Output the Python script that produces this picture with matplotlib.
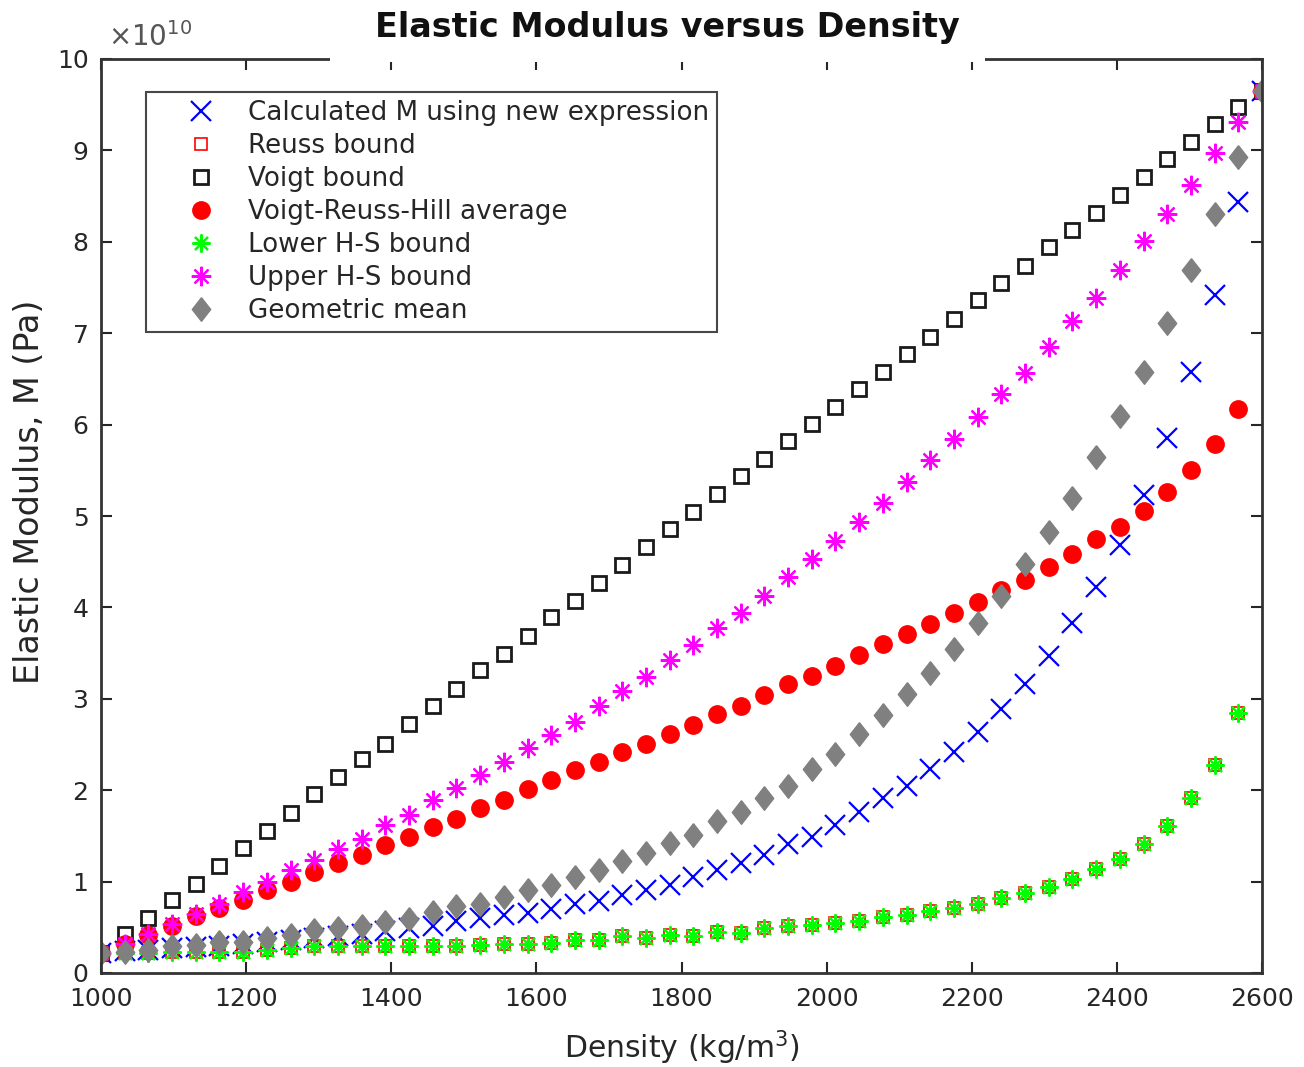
import matplotlib
matplotlib.use("Agg")
import matplotlib.pyplot as plt
from matplotlib.patches import Rectangle

plt.rcParams['font.family'] = ['DejaVu Sans']

# density (kg/m^3)
density = [1000.0, 1032.7, 1065.3, 1098.0, 1130.6, 1163.3, 1195.9, 1228.6, 1261.2, 1293.9,
           1326.5, 1359.2, 1391.8, 1424.5, 1457.1, 1489.8, 1522.4, 1555.1, 1587.8, 1620.4,
           1653.1, 1685.7, 1718.4, 1751.0, 1783.7, 1816.3, 1849.0, 1881.6, 1914.3, 1946.9,
           1979.6, 2012.2, 2044.9, 2077.6, 2110.2, 2142.9, 2175.5, 2208.2, 2240.8, 2273.5,
           2306.1, 2338.8, 2371.4, 2404.1, 2436.7, 2469.4, 2502.0, 2534.7, 2567.3, 2600.0]

# moduli, in units of 1e10 Pa
calc_m = [0.22, 0.24, 0.25, 0.27, 0.28, 0.30, 0.32, 0.34, 0.36, 0.38,
          0.41, 0.43, 0.46, 0.49, 0.51, 0.57, 0.60, 0.63, 0.66, 0.70,
          0.76, 0.79, 0.85, 0.91, 0.96, 1.05, 1.13, 1.20, 1.29, 1.41,
          1.49, 1.62, 1.76, 1.91, 2.05, 2.23, 2.42, 2.64, 2.89, 3.16,
          3.47, 3.83, 4.22, 4.68, 5.23, 5.85, 6.58, 7.42, 8.44, 9.65]

voigt = [0.22, 0.43, 0.60, 0.80, 0.97, 1.17, 1.37, 1.55, 1.75, 1.96,
         2.14, 2.34, 2.51, 2.72, 2.92, 3.11, 3.31, 3.49, 3.69, 3.89,
         4.07, 4.27, 4.46, 4.66, 4.86, 5.04, 5.24, 5.44, 5.62, 5.82,
         6.01, 6.19, 6.39, 6.58, 6.77, 6.96, 7.16, 7.36, 7.55, 7.74,
         7.94, 8.13, 8.32, 8.51, 8.71, 8.91, 9.09, 9.29, 9.47, 9.65]

vrh = [0.22, 0.32, 0.42, 0.51, 0.62, 0.71, 0.80, 0.91, 1.00, 1.11,
       1.20, 1.29, 1.40, 1.49, 1.60, 1.69, 1.80, 1.89, 2.01, 2.11,
       2.22, 2.31, 2.42, 2.51, 2.62, 2.71, 2.83, 2.92, 3.04, 3.16,
       3.25, 3.36, 3.48, 3.60, 3.71, 3.82, 3.94, 4.06, 4.19, 4.30,
       4.44, 4.58, 4.75, 4.88, 5.06, 5.26, 5.50, 5.79, 6.17, 9.65]

lower_hs = [0.22, 0.22, 0.22, 0.23, 0.23, 0.23, 0.23, 0.25, 0.27, 0.29,
            0.29, 0.29, 0.29, 0.30, 0.30, 0.30, 0.31, 0.32, 0.32, 0.33,
            0.36, 0.36, 0.40, 0.38, 0.42, 0.40, 0.45, 0.44, 0.49, 0.51,
            0.52, 0.55, 0.57, 0.61, 0.63, 0.68, 0.71, 0.76, 0.82, 0.88,
            0.94, 1.03, 1.14, 1.25, 1.41, 1.61, 1.91, 2.28, 2.84, 9.65]

# the Reuss bound sits right under the lower H-S bound in the figure
reuss = list(lower_hs)

upper_hs = [0.22, 0.32, 0.43, 0.54, 0.65, 0.76, 0.89, 1.00, 1.13, 1.24,
            1.36, 1.47, 1.62, 1.73, 1.89, 2.02, 2.17, 2.31, 2.46, 2.60,
            2.75, 2.92, 3.08, 3.24, 3.42, 3.59, 3.77, 3.94, 4.12, 4.33,
            4.53, 4.73, 4.93, 5.14, 5.37, 5.61, 5.84, 6.08, 6.34, 6.57,
            6.85, 7.13, 7.39, 7.69, 8.01, 8.30, 8.62, 8.97, 9.31, 9.65]

geometric = [0.22, 0.23, 0.25, 0.29, 0.31, 0.34, 0.34, 0.38, 0.42, 0.47,
             0.49, 0.51, 0.56, 0.59, 0.67, 0.73, 0.76, 0.83, 0.91, 0.96,
             1.05, 1.13, 1.22, 1.31, 1.42, 1.51, 1.66, 1.76, 1.91, 2.05,
             2.23, 2.40, 2.61, 2.82, 3.05, 3.28, 3.54, 3.83, 4.12, 4.48,
             4.83, 5.20, 5.65, 6.09, 6.58, 7.11, 7.69, 8.30, 8.93, 9.65]

x_ticks = [1000, 1200, 1400, 1600, 1800, 2000, 2200, 2400, 2600]
y_ticks = [0, 1, 2, 3, 4, 5, 6, 7, 8, 9, 10]

TXT = '#262626'
asterisk = (8, 2, 0)
diamond = [(0, 1), (0.78, 0), (0, -1), (-0.78, 0), (0, 1)]

fig = plt.figure(figsize=(13.04, 10.67), dpi=100)
ax = fig.add_axes([101 / 1304, 94 / 1067, 1161 / 1304, 914 / 1067])

ax.plot(density, calc_m, ls='none', marker='x', ms=14, mew=1.6, color='b',
        label='Calculated M using new expression')
ax.plot(density, reuss, ls='none', marker='s', ms=8, mfc='none', mec='r', mew=1.2,
        label='Reuss bound')
ax.plot(density, voigt, ls='none', marker='s', ms=10, mfc='none', mec='#1a1a1a', mew=2.0,
        label='Voigt bound')
ax.plot(density, vrh, ls='none', marker='o', ms=12.5, color='r', mec='r',
        label='Voigt-Reuss-Hill average')
ax.plot(density, lower_hs, ls='none', marker=asterisk, ms=13, mew=1.6, color='#00ff00',
        label='Lower H-S bound')
ax.plot(density, upper_hs, ls='none', marker=asterisk, ms=14, mew=1.6, color='#ff00ff',
        label='Upper H-S bound')
ax.plot(density, geometric, ls='none', marker=diamond, ms=17, color='#808080', mec='#808080',
        label='Geometric mean')

ax.set_xlim(1000, 2600)
ax.set_ylim(0, 10)
ax.set_xticks(x_ticks)
ax.set_yticks(y_ticks)
ax.set_xticklabels([str(t) for t in x_ticks])
ax.set_yticklabels([str(t) for t in y_ticks])
ax.tick_params(direction='in', length=8, width=1.5, top=True, right=True,
               labelsize=18, colors=TXT)
ax.tick_params(axis='x', pad=10)
ax.tick_params(axis='y', pad=9)
for s in ax.spines.values():
    s.set_linewidth(2)
    s.set_color('#333333')

ax.set_xlabel('Density (kg/m$^3$)', fontsize=21.5, color=TXT)
ax.xaxis.set_label_coords(0.5004, -0.061)
ax.set_ylabel('Elastic Modulus, M (Pa)', fontsize=24, color=TXT)
ax.yaxis.set_label_coords(-0.047, 0.526)

fig.text(667 / 1304, 1 - 27 / 1067, 'Elastic Modulus versus Density', ha='center', va='center',
         fontsize=24, fontweight='bold', color='#111111')
fig.text(108 / 1304, 1 - 37 / 1067, r'$\times$10$^{10}$', ha='left', va='center',
         fontsize=20, color='#555555')

# the title box hides part of the top axis line
fig.add_artist(Rectangle((330 / 1304, 1 - 62 / 1067), 655 / 1304, 6 / 1067,
                         transform=fig.transFigure, facecolor='white', edgecolor='none',
                         zorder=10))

leg = ax.legend(loc='upper left', bbox_to_anchor=(45 / 1161, 1 - 33 / 914), fontsize=18.8,
                frameon=True, fancybox=False, edgecolor='#1a1a1a', labelspacing=0.27,
                handlelength=3.6, handletextpad=0.0, borderpad=0.3, borderaxespad=0,
                labelcolor=TXT)
leg.get_frame().set_linewidth(1.5)

fig.savefig('out.png', dpi=100, facecolor='white')
